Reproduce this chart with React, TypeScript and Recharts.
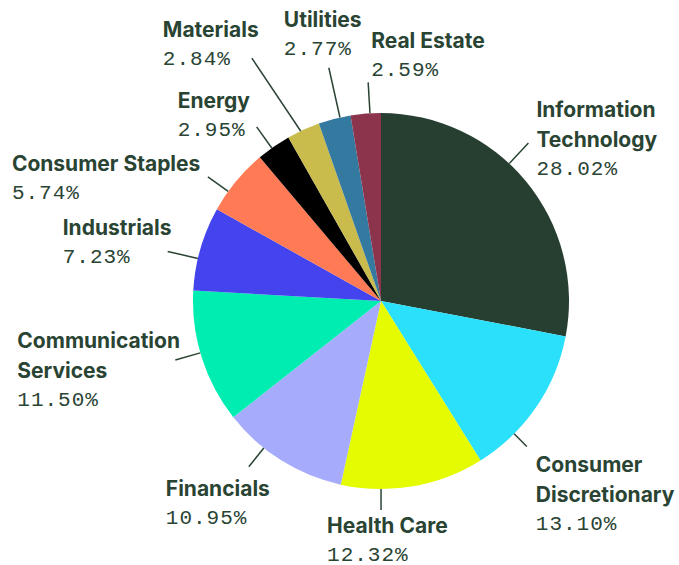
import { PieChart, Pie, Cell } from 'recharts';

const sectors = [
  'Information Technology',
  'Consumer Discretionary',
  'Health Care',
  'Financials',
  'Communication Services',
  'Industrials',
  'Consumer Staples',
  'Energy',
  'Materials',
  'Utilities',
  'Real Estate',
];

const weights = [28.02, 13.1, 12.32, 10.95, 11.5, 7.23, 5.74, 2.95, 2.84, 2.77, 2.59];

const colors = [
  '#263f31',
  '#2ae0fb',
  '#e4fb00',
  '#a6acfb',
  '#00edb1',
  '#4444ee',
  '#ff7a55',
  '#000000',
  '#c9bb4c',
  '#3479a0',
  '#8c344b',
];

// leader layout: start/end angle nudge (deg, clockwise), line length, text offset from line end, wrap name
const labelLayout = [
  { nudge: -7.4, len: 28, dx: 8, dy: -26, wrap: true },
  { nudge: 10.5, len: 18, dx: 9, dy: 25, wrap: true },
  { nudge: 9.8, len: 21, dx: -54, dy: 23, wrap: false },
  { nudge: 6.5, len: 24, dx: -83, dy: 29, wrap: false },
  { nudge: 1.5, len: 26, dx: -158, dy: -12, wrap: true },
  { nudge: -3.1, len: 31, dx: -105, dy: -16, wrap: false },
  { nudge: -3.9, len: 25, dx: -196, dy: -6, wrap: false },
  { nudge: -0.7, len: 26, dx: -79, dy: -19, wrap: false },
  { nudge: -0.9, endNudge: -3.6, len: 87, dx: -89, dy: -21, wrap: false },
  { nudge: 1.7, len: 51, dx: -45, dy: -41, wrap: false },
  { nudge: 1.3, len: 31, dx: 3, dy: -34, wrap: false },
];

const data = sectors.map((name, i) => ({ name, value: weights[i] }));

const RAD = Math.PI / 180;
const textColor = '#2a4434';

const renderLabel = (props: any) => {
  const { cx, cy, midAngle, outerRadius, index } = props;
  const lay: any = labelLayout[index];
  const a1 = (midAngle - lay.nudge) * RAD;
  const a2 = (midAngle - (lay.endNudge ?? lay.nudge)) * RAD;
  const x1 = cx + outerRadius * Math.cos(a1);
  const y1 = cy - outerRadius * Math.sin(a1);
  const x2 = cx + (outerRadius + lay.len) * Math.cos(a2);
  const y2 = cy - (outerRadius + lay.len) * Math.sin(a2);
  const lines = lay.wrap ? sectors[index].split(' ') : [sectors[index]];
  const tx = x2 + lay.dx;
  const ty = y2 + lay.dy;
  return (
    <g>
      <line x1={x1} y1={y1} x2={x2} y2={y2} stroke={textColor} strokeWidth={1.5} />
      {lines.map((ln, k) => (
        <text
          key={k}
          x={tx}
          y={ty + k * 30}
          fill={textColor}
          fontFamily="Inter, sans-serif"
          fontWeight={700}
          fontSize={21}
        >
          {ln}
        </text>
      ))}
      <text
        x={tx}
        y={ty + (lines.length - 1) * 30 + 28}
        fill={textColor}
        fontFamily="'Liberation Mono', monospace"
        fontSize={21}
        letterSpacing={1}
      >
        {weights[index].toFixed(2)}%
      </text>
    </g>
  );
};

export default function App() {
  return (
    <div style={{ position: 'absolute', left: 0, top: 0, width: 679, height: 565, background: '#fff' }}>
      <PieChart width={679} height={565} margin={{ top: 0, right: 0, bottom: 0, left: 0 }}>
        <Pie
          data={data}
          dataKey="value"
          cx={381}
          cy={301}
          outerRadius={188}
          startAngle={90}
          endAngle={-270}
          stroke="none"
          label={renderLabel}
          labelLine={false}
          isAnimationActive={false}
        >
          {data.map((d, i) => (
            <Cell key={d.name} fill={colors[i]} />
          ))}
        </Pie>
      </PieChart>
    </div>
  );
}
